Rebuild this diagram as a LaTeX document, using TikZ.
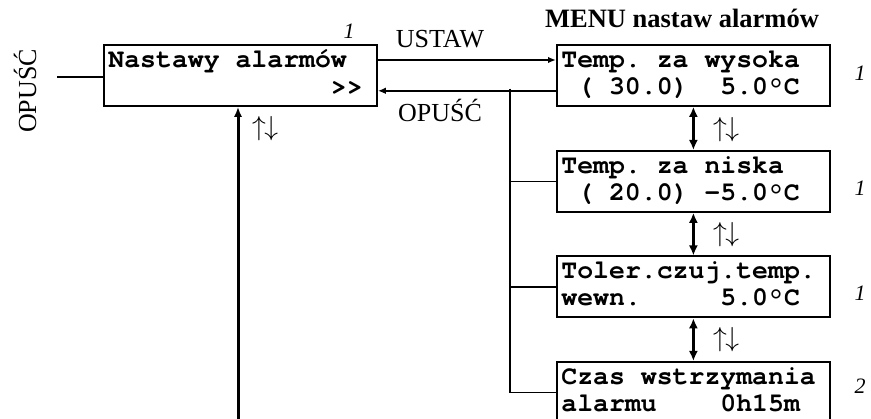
\documentclass[tikz,border=0pt]{standalone}
\usepackage{fontspec}
\usepackage{graphicx}
\setmainfont{Liberation Serif}
\newfontfamily\lcdfont{texgyrecursor}[Extension=.otf, UprightFont=*-bold]
\usetikzlibrary{arrows.meta}
\newcommand\sk{\hphantom{0}}
\newcommand\updn{\scalebox{2.75}{$\uparrow\mkern-1mu\downarrow$}}
\tikzset{
  lcd/.style={draw, line width=1.8pt, anchor=north west, minimum width=273pt, minimum height=61pt,
    inner xsep=4.5pt, inner ysep=0pt, text width=264pt, align=left,
    font=\lcdfont\fontsize{26.5}{27}\selectfont},
  lbl/.style={font=\fontsize{26}{29}\selectfont, inner sep=0pt},
  num/.style={font=\itshape\fontsize{22}{24}\selectfont, inner sep=0pt, anchor=base},
  ud/.style={inner sep=0pt},
  thin/.style={line width=1.4pt},
  mid/.style={line width=1.9pt},
  thick/.style={line width=3pt},
  arr/.style={-{Latex[length=10pt,width=8pt]}},
  darr/.style={{Latex[length=10pt,width=9pt]}-{Latex[length=10pt,width=9pt]}},
  sarr/.style={-{Latex[length=8pt,width=6.5pt]}}
}
\begin{document}
\begin{tikzpicture}[x=1pt,y=-1pt]
\useasboundingbox (0,0) rectangle (871,419);
\clip (0,0) rectangle (871,419);
\node[lcd] (main) at (103,44) {\hbox{\strut Nastawy\sk alarmów}\\\hbox{\strut\sk\sk\sk\sk\sk\sk\sk\sk\sk\sk\sk\sk\sk\sk>>}};
\node[lcd] (r1) at (556,44) {\hbox{\strut Temp.\sk za\sk wysoka}\\\hbox{\strut\sk(\sk30.0)\sk\sk5.0°C}};
\node[lcd] (r2) at (556,150) {\hbox{\strut Temp.\sk za\sk niska}\\\hbox{\strut\sk(\sk20.0)\sk-5.0°C}};
\node[lcd] (r3) at (556,255.5) {\hbox{\strut Toler.czuj.temp.}\\\hbox{\strut wewn.\sk\sk\sk\sk\sk5.0°C}};
\node[lcd] (r4) at (556,361) {\hbox{\strut Czas\sk wstrzymania}\\\hbox{\strut alarmu\sk\sk\sk\sk0h15m}};
% labels
\node[lbl, anchor=base] (ustaw) at (440,48) {USTAW};
\node[lbl, anchor=base] (opusc) at (440,122) {OPUŚĆ};
\node[lbl, rotate=90] (opuscl) at (25,91) {OPUŚĆ};
\node[lbl, anchor=base, font=\bfseries\fontsize{26.5}{29}\selectfont] (menu) at (682,28) {MENU nastaw alarmów};
\node[num] (n0) at (349,39) {1};
\node[num] (n1) at (860,81) {1};
\node[num] (n2) at (860,196) {1};
\node[num] (n3) at (860,301) {1};
\node[num] (n4) at (860,394) {2};
\node[ud] (ud0) at (265,129) {\updn};
\node[ud] (ud1) at (726,130) {\updn};
\node[ud] (ud2) at (726,235) {\updn};
\node[ud] (ud3) at (726,340) {\updn};
% connectors
\draw[mid, sarr] ([yshift=-16pt]main.north east) -- ([yshift=-16pt]r1.north west);
\draw[mid, sarr] ([yshift=16pt]r1.south west) -- ([yshift=16pt]main.south east);
\coordinate (j) at (510,89);
\draw[thin] (j) |- (r2.west);
\draw[thin] (j) |- (r3.west);
\draw[thin] (j) |- (r4.west);
\coordinate (l) at (57,77);
\draw[thin] (l) -- (l -| main.west);
\coordinate (b) at (238,430);
\draw[thick, arr] (b) -- (b |- main.south);
\draw[thick, darr] (r1.south) -- (r2.north);
\draw[thick, darr] (r2.south) -- (r3.north);
\draw[thick, darr] (r3.south) -- (r4.north);
\end{tikzpicture}
\end{document}
